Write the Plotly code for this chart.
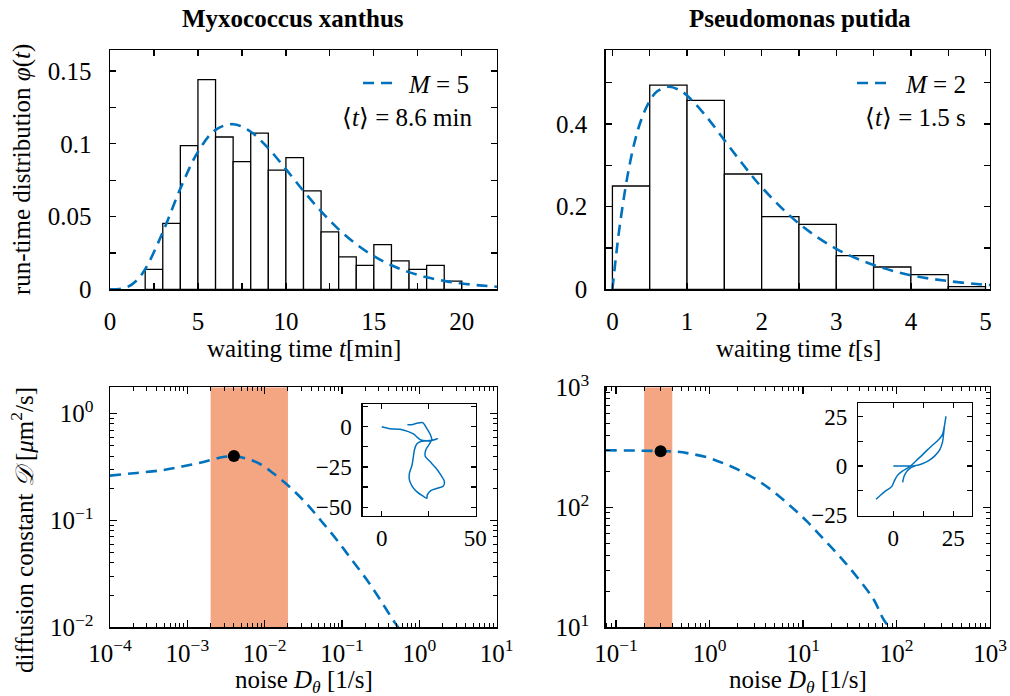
import numpy as np
import plotly.graph_objects as go

W, H = 1010, 696
FONT = "Liberation Serif"
BLUE = "#0072BD"
BAND = "#F4A582"

# ---------------- data ----------------
# Myxococcus xanthus run-time histogram (1-min bins)
mx_bin_left = [2, 3, 4, 5, 6, 7, 8, 9, 10, 11, 12, 13, 14, 15, 16, 17, 18, 19]
mx_bin_width = 1.0
mx_density = [0.0137, 0.0453, 0.0988, 0.1442, 0.1047, 0.0877, 0.1074, 0.0819, 0.0905,
              0.0677, 0.0395, 0.0223, 0.0165, 0.0307, 0.0195, 0.0137, 0.0165, 0.0056]
mx_fit_t = [0, 0.5, 1, 1.5, 2, 3, 4, 5, 6, 7, 8, 9, 10, 11, 12, 13, 14, 15, 16, 17, 18, 19, 20, 21, 22]
mx_fit_phi = [0, 0.0001, 0.0016, 0.0059, 0.0138, 0.0392, 0.0692, 0.0945, 0.1096, 0.1135, 0.1083,
              0.0969, 0.0826, 0.0676, 0.0536, 0.0412, 0.0310, 0.0228, 0.0165, 0.0118, 0.0083,
              0.0058, 0.0040, 0.0027, 0.0018]

# Pseudomonas putida run-time histogram (0.5-s bins)
pp_bin_left = [0, 0.5, 1.0, 1.5, 2.0, 2.5, 3.0, 3.5, 4.0, 4.5]
pp_bin_width = 0.5
pp_density = [0.250, 0.494, 0.457, 0.279, 0.176, 0.157, 0.0815, 0.054, 0.0355, 0.0065]
pp_fit_t = [0, 0.05, 0.1, 0.2, 0.3, 0.4, 0.5, 0.6, 0.75, 0.9, 1.0, 1.25, 1.5, 1.75, 2.0,
            2.5, 3.0, 3.5, 4.0, 4.5, 5.0, 5.06]
pp_fit_phi = [0, 0.083, 0.156, 0.272, 0.358, 0.417, 0.456, 0.479, 0.490, 0.482, 0.469, 0.420,
              0.361, 0.302, 0.247, 0.159, 0.098, 0.059, 0.034, 0.020, 0.011, 0.0105]

# diffusion constant vs noise, Myxococcus
mx_noise = [1e-4, 2.21e-4, 4.9e-4, 8.87e-4, 1.61e-3, 2.78e-3, 4.05e-3, 5.85e-3, 8.7e-3, 1.29e-2,
            2.13e-2, 3.49e-2, 5.46e-2, 8.53e-2, 0.133, 0.208, 0.31, 0.484, 0.63]
mx_diff = [0.262, 0.278, 0.296, 0.321, 0.352, 0.389, 0.397, 0.378, 0.337, 0.276, 0.204, 0.143,
           0.0977, 0.0659, 0.043, 0.028, 0.0182, 0.0110, 0.0085]
mx_band = [0.002, 0.02]
mx_point = (0.004, 0.40)

# diffusion constant vs noise, Pseudomonas
pp_noise = [0.0776, 0.181, 0.448, 0.621, 0.938, 1.41, 2.13, 3.22, 4.85, 7.33, 11.1, 16.7, 25.2,
            38.0, 57.4, 73.3, 89.1]
pp_diff = [298.5, 296.5, 290.4, 279.9, 261.2, 232.8, 201.8, 169.0, 134.9, 102.6, 75.9, 54.1,
           38.3, 26.1, 16.9, 11.5, 9.55]
pp_band = [0.2, 0.4]
pp_point = (0.3, 293)

# inset trajectories
mx_traj_x = [0, 4.45, 9.8, 14.26, 16.94, 19.08, 20.87, 24.09, 27.3, 29.8, 25.87, 21.4, 18.73,
             17.48, 16.94, 16.23, 14.8, 14.8, 16.4, 18.73, 21.94, 24.09, 24.4, 26.23, 29.8, 33.0,
             33.55, 31.6, 29.1, 25.87, 23.2, 23.55, 25.5, 26.77, 25.87, 24.09, 21.94, 18.73, 16.05, 13.73]
mx_traj_y = [0, -1.22, -1.64, -3.09, -4.53, -6.6, -8.26, -8.68, -8.26, -7.43, -8.88, -9.09, -10.75,
             -14.47, -18.6, -23.8, -28.96, -33.1, -37.25, -40.35, -43.04, -44.5, -42.4, -39.7, -38.3,
             -36.8, -34.1, -30.0, -25.86, -21.7, -18.2, -14.47, -10.75, -7.85, -4.53, -1.01, 2.5,
             2.09, 1.26, 1.26]

pp_traj_x = [0, 4.18, 7.6, 9.04, 11.82, 14.6, 17.4, 19.46, 20.57, 20.99, 21.4, 21.96, 20.43, 18.35,
             15.99, 13.9, 11.82, 9.74, 7.65, 6.26, 3.9, 1.68, 0.43, -0.68, -3.04, -5.26, -7.2,
             None, 3.9, 4.46, 5.57, 6.96, 8.63, 9.04]
pp_traj_y = [0, 0, 0, 0.17, 1.02, 2.54, 5.24, 8.46, 12.35, 16.58, 20.8, 25.04, 15.74, 12.69,
             10.15, 7.78, 5.24, 2.88, 0.51, -0.85, -2.54, -4.91, -7.61, -10.49, -12.52, -14.72,
             -16.92, None, -8.29, -5.41, -2.88, -1.18, -0.17, 0.17]

# ---------------- layout geometry (page pixels) ----------------
def px(a):
    return a / W

def py(b):
    return 1 - b / H

def dx(a, b):
    return [px(a), px(b)]

def dy(top, bottom):
    return [py(bottom), py(top)]

TL = (110, 497, 50, 289.3)
TR = (605.7, 990, 50, 289.3)
BL = (110, 496.7, 387.3, 627.3)
BR = (605.7, 990, 387.3, 627.3)
IL = (362.7, 475.7, 404, 516)
IR = (858.3, 971.7, 403.3, 516)

fig = go.Figure()

DASH = dict(color=BLUE, width=2.6, dash="11px,7px", shape="spline")

# histograms
fig.add_trace(go.Bar(x=[l + mx_bin_width / 2 for l in mx_bin_left], y=mx_density, width=mx_bin_width,
                     marker=dict(color="white", line=dict(color="black", width=1.3)),
                     xaxis="x", yaxis="y", showlegend=False))
fig.add_trace(go.Scatter(x=mx_fit_t, y=mx_fit_phi, mode="lines", line=DASH,
                         name="M = 5", xaxis="x", yaxis="y", showlegend=False))
fig.add_trace(go.Bar(x=[l + pp_bin_width / 2 for l in pp_bin_left], y=pp_density, width=pp_bin_width,
                     marker=dict(color="white", line=dict(color="black", width=1.3)),
                     xaxis="x2", yaxis="y2", showlegend=False))
fig.add_trace(go.Scatter(x=pp_fit_t, y=pp_fit_phi, mode="lines", line=DASH,
                         name="M = 2", xaxis="x2", yaxis="y2", showlegend=False))

# bottom left
ylo3, yhi3 = 1e-2, 10 ** 0.245
fig.add_trace(go.Scatter(x=[mx_band[0], mx_band[1], mx_band[1], mx_band[0]], y=[ylo3, ylo3, yhi3, yhi3],
                         fill="toself", fillcolor=BAND, line=dict(width=0), mode="lines",
                         xaxis="x3", yaxis="y3", showlegend=False, hoverinfo="skip"))
fig.add_trace(go.Scatter(x=mx_noise, y=mx_diff, mode="lines", line=DASH,
                         xaxis="x3", yaxis="y3", showlegend=False))
fig.add_trace(go.Scatter(x=[mx_point[0]], y=[mx_point[1]], mode="markers", marker=dict(color="black", size=12),
                         xaxis="x3", yaxis="y3", showlegend=False))

# bottom right
ylo4, yhi4 = 10, 1000
fig.add_trace(go.Scatter(x=[pp_band[0], pp_band[1], pp_band[1], pp_band[0]], y=[ylo4, ylo4, yhi4, yhi4],
                         fill="toself", fillcolor=BAND, line=dict(width=0), mode="lines",
                         xaxis="x4", yaxis="y4", showlegend=False, hoverinfo="skip"))
fig.add_trace(go.Scatter(x=pp_noise, y=pp_diff, mode="lines", line=DASH,
                         xaxis="x4", yaxis="y4", showlegend=False))
fig.add_trace(go.Scatter(x=[pp_point[0]], y=[pp_point[1]], mode="markers", marker=dict(color="black", size=12),
                         xaxis="x4", yaxis="y4", showlegend=False))

# insets
fig.add_trace(go.Scatter(x=mx_traj_x, y=mx_traj_y, mode="lines", line=dict(color=BLUE, width=1.5, shape="spline", smoothing=0.8),
                         xaxis="x5", yaxis="y5", showlegend=False))
fig.add_trace(go.Scatter(x=pp_traj_x, y=pp_traj_y, mode="lines", line=dict(color=BLUE, width=1.5, shape="spline", smoothing=0.8),
                         xaxis="x6", yaxis="y6", showlegend=False, connectgaps=False))

FS = 25
tickfont = dict(family=FONT, size=FS, color="black")
insetfont = dict(family=FONT, size=23, color="black")


def base(domain, anchor, font=tickfont, **kw):
    d = dict(domain=domain, anchor=anchor, showline=True, linecolor="black", linewidth=1.4,
             mirror="ticks", ticks="inside", tickcolor="black", tickwidth=1.2, ticklen=6,
             showgrid=False, zeroline=False, tickfont=font, fixedrange=True, automargin=False)
    d.update(kw)
    return d


def logminor(lo_exp, hi_exp):
    vals = []
    for e in range(lo_exp, hi_exp + 1):
        for m in range(2, 10):
            vals.append(m * 10.0 ** e)
    return dict(ticks="inside", ticklen=4, tickwidth=1.0, tickcolor="black", tickvals=vals, showgrid=False)


def sup(e):
    s = str(e).replace("-", "\u2212")
    return "10<sup>" + s + "</sup>"


x_ticks_tl = [0, 2.5, 5, 7.5, 10, 12.5, 15, 17.5, 20]
fig.update_layout(
    template="none",
    xaxis=base(dx(TL[0], TL[1]), "y", range=[0, 22], tickvals=x_ticks_tl,
               ticktext=["0", "", "5", "", "10", "", "15", "", "20"], ticklabelstandoff=9),
    yaxis=base(dy(TL[2], TL[3]), "x", range=[0, 0.1645], tickvals=[0, 0.025, 0.05, 0.075, 0.1, 0.125, 0.15],
               ticktext=["0", "", "0.05", "", "0.1", "", "0.15"], ticklabelstandoff=12),
    xaxis2=base(dx(TR[0], TR[1]), "y2", range=[-0.09, 5.06], tickvals=[0, 0.5, 1, 1.5, 2, 2.5, 3, 3.5, 4, 4.5, 5],
                ticktext=["0", "", "1", "", "2", "", "3", "", "4", "", "5"], ticklabelstandoff=9),
    yaxis2=base(dy(TR[2], TR[3]), "x2", range=[0, 0.579], tickvals=[0, 0.1, 0.2, 0.3, 0.4, 0.5],
                ticktext=["0", "", "0.2", "", "0.4", ""], ticklabelstandoff=12),
    xaxis3=base(dx(BL[0], BL[1]), "y3", type="log", range=[-4, 1], tickvals=[10.0 ** e for e in range(-4, 2)],
                ticktext=[sup(e) for e in range(-4, 2)], ticklen=7, minor=logminor(-4, 0), ticklabelstandoff=3),
    yaxis3=base(dy(BL[2], BL[3]), "x3", type="log", range=[-2, 0.245], tickvals=[0.01, 0.1, 1],
                ticktext=[sup(-2), sup(-1), sup(0)], ticklen=7, minor=logminor(-2, 0), ticklabelstandoff=10),
    xaxis4=base(dx(BR[0], BR[1]), "y4", type="log", range=[np.log10(0.0776), 3], tickvals=[0.1, 1, 10, 100, 1000],
                ticktext=[sup(e) for e in range(-1, 4)], ticklen=7, minor=logminor(-2, 2), ticklabelstandoff=3),
    yaxis4=base(dy(BR[2], BR[3]), "x4", type="log", range=[1, 3], tickvals=[10, 100, 1000],
                ticktext=[sup(1), sup(2), sup(3)], ticklen=7, minor=logminor(1, 2), ticklabelstandoff=10),
    xaxis5=base(dx(IL[0], IL[1]), "y5", font=insetfont, range=[-10.2, 50.3], tickvals=[0, 25, 50],
                ticktext=["0", "", "50"], ticklen=5, ticklabelstandoff=1),
    yaxis5=base(dy(IL[2], IL[3]), "x5", font=insetfont, range=[-55.5, 14.1], tickvals=[12.5, 0, -12.5, -25, -37.5, -50],
                ticktext=["", "0", "", "\u221225", "", "\u221250"], ticklen=5, ticklabelstandoff=5),
    xaxis6=base(dx(IR[0], IR[1]), "y6", font=insetfont, range=[-14.6, 32.7], tickvals=[0, 12.5, 25],
                ticktext=["0", "", "25"], ticklen=5, ticklabelstandoff=1),
    yaxis6=base(dy(IR[2], IR[3]), "x6", font=insetfont, range=[-25.4, 31.8], tickvals=[25, 12.5, 0, -12.5, -25],
                ticktext=["25", "", "0", "", "\u221225"], ticklen=5, ticklabelstandoff=5),
)

# legend entries (dashed sample + label) drawn in the upper right of each histogram
shapes = []
for x0, x1, yy in [(363, 393, 83), (857, 887, 83)]:
    shapes.append(dict(type="line", xref="paper", yref="paper", x0=px(x0), x1=px(x1), y0=py(yy), y1=py(yy),
                       line=dict(color=BLUE, width=2.6, dash="11px,7px")))

annotations = []


def ann(text, x, y, size=FS, angle=0, xanchor="center", bold=False):
    annotations.append(dict(text=("<b>" + text + "</b>") if bold else text, x=px(x), y=py(y),
                            xref="paper", yref="paper", showarrow=False, textangle=angle,
                            xanchor=xanchor, yanchor="middle",
                            font=dict(family=FONT, size=size, color="black")))


ann("Myxococcus xanthus", 293, 19, size=25, bold=True)
ann("Pseudomonas putida", 800, 19, size=25, bold=True)
ann("<i>M</i> = 5", 471, 84, xanchor="right")
ann("<i>M</i> = 2", 968, 84, xanchor="right")
ann("\u27e8<i>t</i>\u27e9 = 8.6 min", 474, 118, xanchor="right")
ann("\u27e8<i>t</i>\u27e9 = 1.5 s", 968, 118, xanchor="right")
ann("waiting time <i>t</i>[min]", 303.5, 349)
ann("waiting time <i>t</i>[s]", 798, 349)
ann("noise <i>D</i><sub><i>θ</i></sub> [1/s]", 303.5, 681)
ann("noise <i>D</i><sub><i>θ</i></sub> [1/s]", 798, 681)
ann("run-time distribution <i>φ</i>(<i>t</i>)", 22, 170, angle=-90)
ann("diffusion constant <i>\U0001D49F</i> [<i>μ</i>m<sup>2</sup>/s]", 22, 530, angle=-90)

fig.update_layout(
    annotations=annotations,
    shapes=shapes,
    width=W, height=H,
    margin=dict(l=0, r=0, t=0, b=0, pad=0),
    paper_bgcolor="white", plot_bgcolor="rgba(0,0,0,0)",
    bargap=0, barmode="overlay", showlegend=False,
    font=dict(family=FONT, size=FS, color="black"),
)

# remove the browser's default 8px page margin so the figure fills the window exactly
fig.write_html("out.html", config={"displayModeBar": False, "staticPlot": True},
               post_script="document.body.style.margin='0';document.body.style.overflow='hidden';")
